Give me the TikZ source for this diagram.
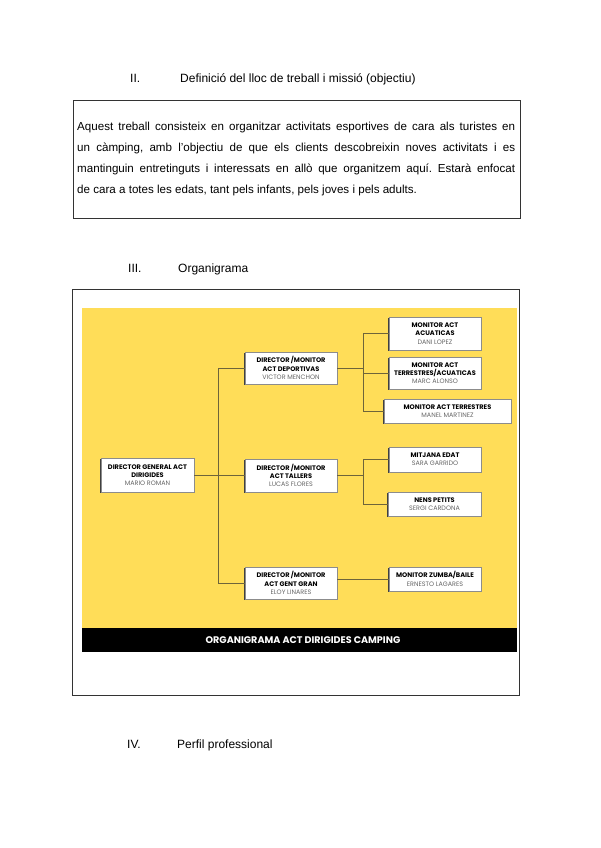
\documentclass[tikz,border=0pt]{standalone}
\usepackage{fontspec}
\setmainfont{Liberation Sans}
\newfontfamily\pop{Poppins}
\usetikzlibrary{shadows}
\frenchspacing
\definecolor{orgyellow}{RGB}{255,221,88}
\definecolor{conn}{RGB}{110,100,58}
\tikzset{
  heading/.style={anchor=base west, inner sep=0pt, font=\fontsize{12}{14}\selectfont},
  orgbox/.style={draw=black!45, line width=0.4pt, fill=white, inner sep=0pt, align=center,
    font=\pop\fontsize{6.6}{8.3}\selectfont,
    drop shadow={shadow xshift=-0.9pt, shadow yshift=-0.9pt, fill=black!75, opacity=1}},
  link/.style={draw=conn, line width=0.6pt},
  frame/.style={draw=black!80, line width=0.9pt}
}
\newcommand{\nm}[1]{{\color{black!60}\fontsize{6.4}{8.3}\selectfont #1}}
\begin{document}
\begin{tikzpicture}[x=1pt,y=-1pt]
\useasboundingbox (0,0) rectangle (600,848);
% Section II
\node[heading] (h2n) at (130,83) {II.};
\node[heading] (h2t) at (180,83) {Definició del lloc de treball i missió (objectiu)};
\draw[frame] (73,100) rectangle (520,218);
\node[anchor=north west, inner sep=0pt, text width=438pt, align=justify,
  font=\fontsize{11.6}{21.2}\selectfont] (para) at (77,121.5)
  {\hyphenpenalty=10000 Aquest treball consisteix en organitzar activitats esportives de cara als turistes en\linebreak un càmping, amb l’objectiu de que els clients descobreixin noves activitats i es\linebreak mantinguin entretinguts i interessats en allò que organitzem aquí. Estarà enfocat\linebreak de cara a totes les edats, tant pels infants, pels joves i pels adults.};
% Section III
\node[heading] (h3n) at (128,272) {III.};
\node[heading] (h3t) at (178,272) {Organigrama};
\draw[frame] (72,289) rectangle (519,695);
\fill[orgyellow] (82,308) rectangle (517,628);
\fill[black] (82,628) rectangle (517,652);
\node[font=\pop\bfseries\fontsize{9.6}{10}\selectfont, text=white, inner sep=0pt] (band) at (303,640) {ORGANIGRAMA ACT DIRIGIDES CAMPING};
% boxes
\node[orgbox, minimum width=93pt, minimum height=34pt] (dg) at (147.5,475) {\textbf{DIRECTOR GENERAL ACT}\\\textbf{DIRIGIDES}\\\nm{MARIO ROMAN}};
\node[orgbox, minimum width=92pt, minimum height=32pt] (dep) at (291,368) {\textbf{DIRECTOR /MONITOR}\\\textbf{ACT DEPORTIVAS}\\\nm{VICTOR MENCHON}};
\node[orgbox, minimum width=92pt, minimum height=33pt] (tal) at (291,475.5) {\textbf{DIRECTOR /MONITOR}\\\textbf{ACT TALLERS}\\\nm{LUCAS FLORES}};
\node[orgbox, minimum width=92pt, minimum height=32pt] (gg) at (291,583) {\textbf{DIRECTOR /MONITOR}\\\textbf{ACT GENT GRAN}\\\nm{ELOY LINARES}};
\node[orgbox, minimum width=92pt, minimum height=33pt] (aq) at (435,333.5) {\textbf{MONITOR ACT}\\\textbf{ACUATICAS}\\\nm{DANI LOPEZ}};
\node[orgbox, minimum width=92pt, minimum height=32pt] (ta) at (435,373) {\textbf{MONITOR ACT}\\\textbf{TERRESTRES/ACUATICAS}\\\nm{MARC ALONSO}};
\node[orgbox, minimum width=127pt, minimum height=24pt] (te) at (447.5,411) {\textbf{MONITOR ACT TERRESTRES}\\\nm{MANEL MARTINEZ}};
\node[orgbox, minimum width=92pt, minimum height=25pt] (me) at (435,459.5) {\textbf{MITJANA EDAT}\\\nm{SARA GARRIDO}};
\node[orgbox, minimum width=93pt, minimum height=24pt] (np) at (434.5,504) {\textbf{NENS PETITS}\\\nm{SERGI CARDONA}};
\node[orgbox, minimum width=92pt, minimum height=24pt] (zb) at (435,579) {\textbf{MONITOR ZUMBA/BAILE}\\\nm{ERNESTO LAGARES}};
% connectors
\coordinate (trunk) at (218,0);
\coordinate (br) at (363,0);
\draw[link] (dg.east) -- (dg.east -| tal.west);
\draw[link] (dep.west) -- (trunk |- dep.west) -- (trunk |- gg.west) -- (gg.west);
\draw[link] (dep.east) -- (br |- dep.east);
\draw[link] (aq.west) -- (br |- aq.west) -- (br |- te.west) -- (te.west);
\draw[link] (ta.west) -- (br |- ta.west);
\draw[link] (tal.east) -- (br |- tal.east);
\draw[link] (me.west) -- (br |- me.west) -- (br |- np.west) -- (np.west);
\draw[link] (zb.west -| gg.east) -- (zb.west);
% Section IV
\node[heading] (h4n) at (127,748) {IV.};
\node[heading] (h4t) at (177,748) {Perfil professional};
\end{tikzpicture}
\end{document}
